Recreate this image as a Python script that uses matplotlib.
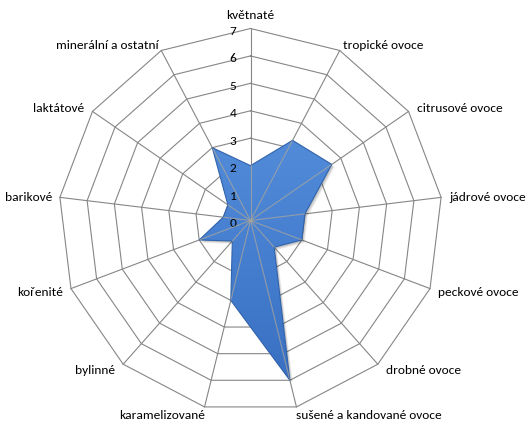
import numpy as np
import matplotlib
matplotlib.use("Agg")
import matplotlib.pyplot as plt
from matplotlib import font_manager
from matplotlib.patches import Polygon
from matplotlib.colors import LinearSegmentedColormap

# Aroma profile (scale 0-7)
categories = [
    "květnaté",
    "tropické ovoce",
    "citrusové ovoce",
    "jádrové ovoce",
    "peckové ovoce",
    "drobné ovoce",
    "sušené a kandované ovoce",
    "karamelizované",
    "bylinné",
    "kořenité",
    "barikové",
    "laktátové",
    "minerální a ostatní",
]
values = [2, 3.3, 3.6, 2, 2, 1.3, 6, 3, 1, 2, 1, 1, 3]
r_ticks = [0, 1, 2, 3, 4, 5, 6, 7]
r_max = 7

installed = {f.name for f in font_manager.fontManager.ttflist}
family = "Carlito" if "Carlito" in installed else "Lato"
plt.rcParams["font.family"] = [family, "DejaVu Sans"]
FS = 9.6

W, H, DPI = 531, 427, 100
fig = plt.figure(figsize=(W / DPI, H / DPI), dpi=DPI)
ax = fig.add_axes([0, 0, 1, 1])
ax.set_axis_off()

# centre of the web in pixels (from top-left) and outer radius
cx, cy = 250.5, 221.5
R_px = 192
u = R_px / r_max  # pixels per value unit
PT = 72 / DPI      # pixels -> points

n = len(categories)
theta = np.arange(n) * 2 * np.pi / n
sx, sy = np.sin(theta), np.cos(theta)

grid_color = "#868686"
lw = 0.8

# concentric polygon grid
for lvl in r_ticks[1:]:
    ax.plot(np.append(lvl * sx, lvl * sx[0]), np.append(lvl * sy, lvl * sy[0]),
            color=grid_color, lw=lw, zorder=1, solid_joinstyle="miter")
# spokes
for i in range(n):
    ax.plot([0, r_max * sx[i]], [0, r_max * sy[i]], color=grid_color, lw=lw, zorder=1)

# series polygon
vals = np.asarray(values, dtype=float)
pts = np.column_stack([vals * sx, vals * sy])

# soft drop shadow
for k, a in [(3.0, 0.06), (2.2, 0.08), (1.5, 0.10)]:
    shadow = Polygon(pts + np.array([k / u, -k / u]), closed=True,
                     facecolor="black", edgecolor="none", alpha=a, zorder=2)
    ax.add_patch(shadow)

poly = Polygon(pts, closed=True, facecolor="none", edgecolor="#3163ab",
               lw=0.8, zorder=3.5)
ax.add_patch(poly)

cmap = LinearSegmentedColormap.from_list("fill", ["#528bd8", "#457ecf", "#3a70c2"])
grad = np.linspace(0, 1, 256).reshape(-1, 1)
im = ax.imshow(grad, extent=[pts[:, 0].min(), pts[:, 0].max(), pts[:, 1].min(), pts[:, 1].max()],
               origin="upper", cmap=cmap, aspect="auto", zorder=3, interpolation="bilinear")
im.set_clip_path(poly)

# spokes seen through the filled area
for i in range(n):
    ln, = ax.plot([0, r_max * sx[i]], [0, r_max * sy[i]], color="#b0a898",
                  lw=lw, alpha=0.7, zorder=4)
    ln.set_clip_path(poly)

# category labels
for i, name in enumerate(categories):
    s, c = sx[i], sy[i]
    sign = 0 if abs(s) < 0.05 else np.sign(s)
    ha = {0: "center", 1: "left", -1: "right"}[sign]
    if c > 0.75:
        va = "bottom"
        dx = 3 * sign
        dy = 8 if sign == 0 else 0
    elif c < -0.75:
        va = "top"
        dx = 0
        dy = -2
    else:
        va = "center"
        dx = 8 * sign
        dy = c * 7
    ax.annotate(name, (r_max * s, r_max * c), xytext=(dx * PT, dy * PT),
                textcoords="offset points", ha=ha, va=va, fontsize=FS, color="black")

# value labels along the first spoke
for lvl in r_ticks:
    ax.annotate(str(lvl), (0, lvl), xytext=(-14 * PT, -2 * PT), textcoords="offset points",
                ha="right", va="center", fontsize=FS, color="black")

ax.set_xlim(-cx / u, (W - cx) / u)
ax.set_ylim(-(H - cy) / u, cy / u)

fig.savefig("out.png", dpi=DPI)
